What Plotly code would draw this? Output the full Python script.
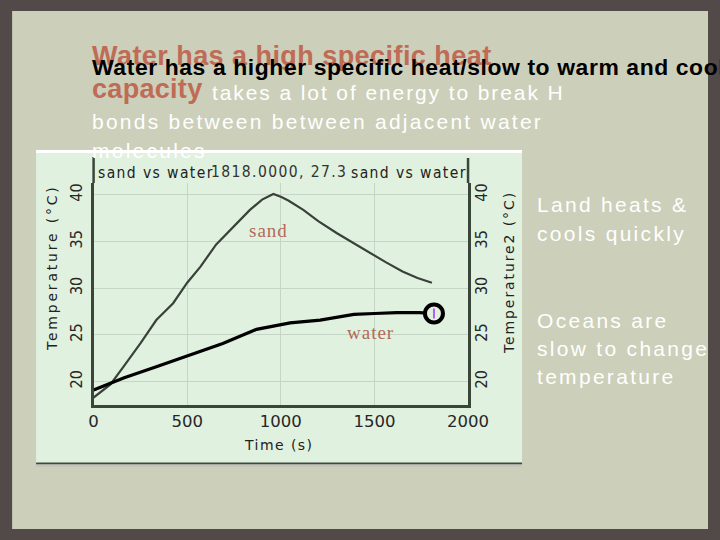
import plotly.graph_objects as go

W, H = 720, 540

# ---- data ----
sand_time = [0, 90, 160, 250, 335, 425, 500, 570, 655, 745, 835, 900, 960, 1000, 1040,
             1120, 1200, 1300, 1400, 1480, 1560, 1650, 1730, 1807]
sand_temp = [18.3, 19.7, 21.6, 24.1, 26.6, 28.4, 30.6, 32.3, 34.7, 36.6, 38.4, 39.5, 40.1, 39.8, 39.4,
             38.4, 37.2, 35.9, 34.7, 33.8, 32.8, 31.8, 31.1, 30.6]
water_time = [0, 160, 335, 515, 690, 870, 925, 1050, 1210, 1390, 1500, 1620, 1740, 1818]
water_temp = [19.1, 20.4, 21.6, 22.9, 24.1, 25.6, 25.8, 26.3, 26.6, 27.2, 27.3, 27.4, 27.4, 27.3]
x_ticks = [0, 500, 1000, 1500, 2000]
y_ticks = [20, 25, 30, 35, 40]

# the photographed page comes out slightly narrower than laid out; map target pixels
SCALE_X, OFF_X = 0.964, 4.9


def px(x):
    return ((x - OFF_X) / SCALE_X) / W


def py(y):
    return 1 - y / H


COND = "DejaVu Sans Condensed, DejaVu Sans, sans-serif"
WIDE = "DejaVu Sans, Verdana, sans-serif"
SLIDE_FONT = "Liberation Sans, Arial, sans-serif"
SERIF = "Liberation Serif, Times New Roman, serif"
AXIS_COL = "#3b463b"
GRID_COL = "#c6d6c6"

fig = go.Figure()
fig.add_trace(go.Scatter(x=sand_time, y=sand_temp, mode="lines",
                         line=dict(color="#3a403a", width=2.2), showlegend=False))
fig.add_trace(go.Scatter(x=water_time, y=water_temp, mode="lines",
                         line=dict(color="#000000", width=3.2), showlegend=False, yaxis="y2"))
fig.add_trace(go.Scatter(x=water_time[-1:], y=water_temp[-1:], mode="markers",
                         marker=dict(symbol="circle", size=18, color="#e2f0e0",
                                     line=dict(color="#000000", width=4)),
                         showlegend=False, yaxis="y2"))
fig.add_trace(go.Scatter(x=water_time[-1:], y=water_temp[-1:], mode="markers",
                         marker=dict(symbol="line-ns-open", size=7,
                                     line=dict(color="#000000", width=2)),
                         showlegend=False, yaxis="y2"))

yr = [17.5, 41.28]
fig.update_layout(
    width=W, height=H, autosize=False,
    margin=dict(l=0, r=0, t=0, b=0),
    paper_bgcolor="#524a48",
    plot_bgcolor="rgba(0,0,0,0)",
    xaxis=dict(domain=[px(93.5), px(468)], range=[0, 2000], tickvals=x_ticks,
               showgrid=True, gridcolor=GRID_COL, gridwidth=1, zeroline=False,
               showline=True, linecolor=AXIS_COL, linewidth=2.5, ticks="",
               tickfont=dict(family=WIDE, size=16.5, color="#262626"),
               ticklabelstandoff=-1, fixedrange=True),
    yaxis=dict(domain=[py(405), py(183)], range=yr, tickvals=y_ticks, tickangle=-90,
               showgrid=True, gridcolor=GRID_COL, gridwidth=1, zeroline=False,
               showline=True, linecolor=AXIS_COL, linewidth=2.5, ticks="",
               tickfont=dict(family=COND, size=16, color="#262626"),
               ticklabelstandoff=2),
    yaxis2=dict(overlaying="y", side="right", range=yr, tickvals=y_ticks, tickangle=-90,
                showgrid=False, zeroline=False, showline=True, linecolor=AXIS_COL,
                linewidth=2.5, ticks="",
                tickfont=dict(family=COND, size=16, color="#262626"),
                ticklabelstandoff=-3),
)

shapes = [
    # inner slide panel
    dict(type="rect", xref="paper", yref="paper", x0=px(12), x1=px(708), y0=py(529), y1=py(11),
         fillcolor="#cccfb9", line=dict(width=0), layer="below"),
    # chart picture background
    dict(type="rect", xref="paper", yref="paper", x0=px(36), x1=px(522), y0=py(463), y1=py(152),
         fillcolor="#e0f1df", line=dict(width=0), layer="below"),
    dict(type="line", xref="paper", yref="paper", x0=px(36), x1=px(522), y0=py(151.5), y1=py(151.5),
         line=dict(color="#ffffff", width=3), layer="below"),
    dict(type="line", xref="paper", yref="paper", x0=px(36), x1=px(522), y0=py(463.5), y1=py(463.5),
         line=dict(color="#3d4a3d", width=2), layer="below"),
    dict(type="rect", xref="paper", yref="paper", x0=px(36), x1=px(522), y0=py(467), y1=py(464.5),
         fillcolor="#c4c6bb", line=dict(width=0), layer="below"),
    # axis lines extending above plot area
    dict(type="line", xref="paper", yref="paper", x0=px(93.5), x1=px(93.5), y0=py(183), y1=py(157),
         line=dict(color=AXIS_COL, width=2.5)),
    dict(type="line", xref="paper", yref="paper", x0=px(468), x1=px(468), y0=py(183), y1=py(158),
         line=dict(color=AXIS_COL, width=2.5)),
]
fig.update_layout(shapes=shapes)


def ann(text, x, y, size, color, family, xanchor="left", angle=0, bold=False):
    if bold:
        text = "<b>" + text + "</b>"
    fig.add_annotation(text=text, x=px(x), y=py(y), xref="paper", yref="paper",
                       xanchor=xanchor, yanchor="middle", showarrow=False, textangle=angle,
                       borderpad=0, font=dict(size=size, color=color, family=family))


def sp(text, s):
    return '<span style="letter-spacing:%spx">%s</span>' % (s, text)


# chart texts
ann(sp("sand vs water", 1.4), 97, 173, 15.5, "#222222", COND)
ann(sp("1818.0000, 27.3", 1.4), 210, 172, 15.5, "#333333", COND)
ann(sp("sand vs water", 1.4), 350, 173, 15.5, "#222222", COND)
ann(sp("sand", 1), 268, 230, 19, "#b4695a", SERIF, xanchor="center")
ann(sp("water", 1), 370, 332, 19, "#b4695a", SERIF, xanchor="center")
ann(sp("Time (s)", 1.45), 279, 445, 14, "#222222", WIDE, xanchor="center")
ann(sp("Temperature (°C)", 2.8), 52, 268, 14, "#222222", WIDE, xanchor="center", angle=-90)
ann(sp("Temperature2 (°C)", 1.9), 509, 273, 14, "#222222", WIDE, xanchor="center", angle=-90)

# slide texts
RED = "#bf6b56"
ann(sp("<b>Water has a high specific heat</b>", 0.45), 91, 56, 27, RED, SLIDE_FONT)
ann(sp("<b>Water has a higher specific heat/slow to warm and cool</b>", 0.6), 91, 67, 22.9,
    "#000000", SLIDE_FONT)
ann(sp("<b>capacity</b>", 0.3), 91, 89, 27, RED, SLIDE_FONT)
ann(sp("takes a lot of energy to break H", 1.9), 211, 92, 21, "#ffffff", SLIDE_FONT)
ann(sp("bonds between between adjacent water", 2.25), 91, 122, 21, "#ffffff", SLIDE_FONT)
ann(sp("molecules", 2.25), 91, 150, 21, "#ffffff", SLIDE_FONT)
for txt, yb in [("Land heats &amp;", 212), ("cools quickly", 241), ("Oceans are", 328),
                ("slow to change", 356), ("temperature", 384)]:
    ann(sp(txt, 2.3), 536, yb - 7.5, 21, "#ffffff", SLIDE_FONT)

fig.write_html(
    "out.html",
    config={"responsive": False, "displayModeBar": False},
    post_script="document.body.style.margin='0px';document.body.style.overflow='hidden';"
                "document.body.style.background='#524a48';",
)
